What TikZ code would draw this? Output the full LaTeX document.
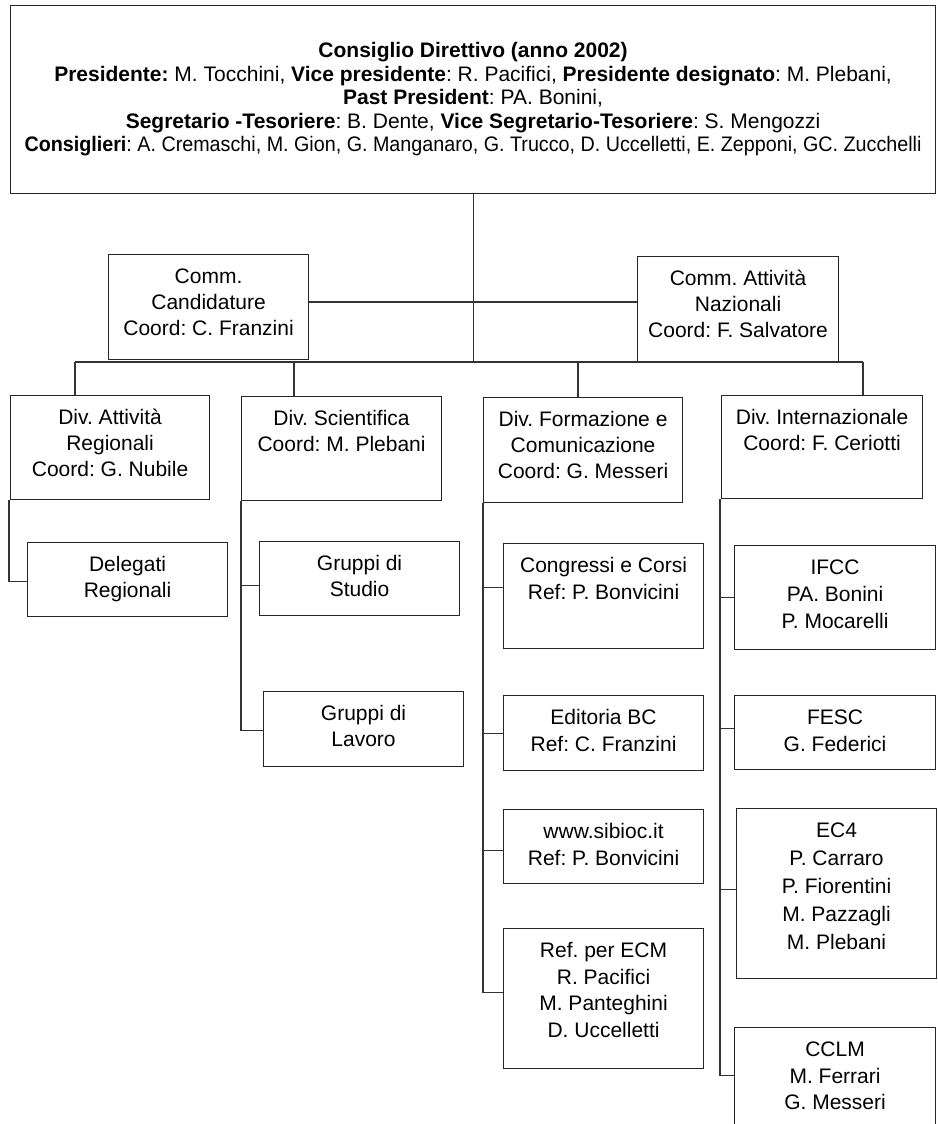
\documentclass[tikz,border=0pt]{standalone}
\usepackage{fontspec}
\setmainfont{Liberation Sans}
\frenchspacing
\tikzset{
  obox/.style={draw=black!85, line width=1.1pt, inner sep=0pt, anchor=north west, fill=white},
  conn/.style={draw=black!80, line width=1.1pt}
}
% name, x, y, width, height, baselineskip, text
\newcommand{\orgnode}[7]{%
  \node[obox] (#1) at (#2,#3) {\parbox[c][#5pt][t]{#4pt}{\centering\frenchspacing\fontsize{21}{#6}\selectfont\rule{0pt}{29pt}#7\par}};}
\begin{document}
\begin{tikzpicture}[x=1pt,y=-1pt]
\useasboundingbox (0,0) rectangle (937,1124);
\fill[white] (0,0) rectangle (937,1124);
\clip (0,0) rectangle (937,1124);

% top box
\node[obox] (cd) at (10,5) {\parbox[c][188pt][t]{925pt}{\centering\frenchspacing\fontsize{21}{23.5}\selectfont\rule{0pt}{52pt}%
\textbf{Consiglio Direttivo (anno 2002)}\\
\textbf{Presidente:} M. Tocchini, \textbf{Vice presidente}: R. Pacifici, \textbf{Presidente designato}: M. Plebani,\\
\textbf{Past President}: PA. Bonini,\\
\textbf{Segretario -Tesoriere}: B. Dente, \textbf{Vice Segretario-Tesoriere}: S. Mengozzi\\
\resizebox{897pt}{\height}{\textbf{Consiglieri}: A. Cremaschi, M. Gion, G. Manganaro, G. Trucco, D. Uccelletti, E. Zepponi, GC. Zucchelli}\par}};

% commissions
\orgnode{cc}{108}{254}{200}{105}{26}{Comm.\\Candidature\\Coord: C. Franzini}
\orgnode{ca}{637}{256}{201}{105}{26}{Comm. Attività\\Nazionali\\Coord: F. Salvatore}

% divisions
\orgnode{da}{10}{395}{199}{104}{26}{Div. Attività\\Regionali\\Coord: G. Nubile}
\orgnode{ds}{241}{396}{200}{104}{26}{Div. Scientifica\\Coord: M. Plebani}
\orgnode{df}{483}{397}{199}{105}{26}{Div. Formazione e\\Comunicazione\\Coord: G. Messeri}
\orgnode{di}{721}{395}{201}{103}{26}{Div. Internazionale\\Coord: F. Ceriotti}

% sub-units
\orgnode{dr}{27}{542}{200}{74}{26}{Delegati\\Regionali}
\orgnode{gs}{259}{541}{200}{74}{26}{Gruppi di\\Studio}
\orgnode{gl}{263}{691}{200}{75}{26}{Gruppi di\\Lavoro}
\orgnode{cg}{503}{543}{200}{105}{26.5}{Congressi e Corsi\\Ref: P. Bonvicini}
\orgnode{eb}{503}{695}{200}{75}{26.5}{Editoria BC\\Ref: C. Franzini}
\orgnode{ww}{503}{809}{200}{74}{26.5}{www.sibioc.it\\Ref: P. Bonvicini}
\orgnode{ecm}{503}{928}{200}{140}{26.7}{Ref. per ECM\\R. Pacifici\\M. Panteghini\\D. Uccelletti}
\orgnode{ifcc}{734}{545}{201}{104}{27}{IFCC\\PA. Bonini\\P. Mocarelli}
\orgnode{fe}{734}{695}{201}{74}{26.5}{FESC\\G. Federici}
\orgnode{ec}{736}{808}{200}{170}{28}{EC4\\P. Carraro\\P. Fiorentini\\M. Pazzagli\\M. Plebani}
\orgnode{cl}{734}{1027}{201}{120}{26.5}{CCLM\\M. Ferrari\\G. Messeri}

% connectors, top level
\coordinate (hb) at (0,302);
\draw[conn] (cc.east |- hb) -- (ca.west |- hb);
\coordinate (busL) at (75,362);
\coordinate (busR) at (863,362);
\coordinate (b2) at (294,362);
\coordinate (b3) at (578,362);
\draw[conn] (cd.south) -- (cd.south |- busL);
\draw[conn] (busL) -- (busR);
\draw[conn] (busL) -- (busL |- da.north);
\draw[conn] (b2) -- (b2 |- ds.north);
\draw[conn] (b3) -- (b3 |- df.north);
\draw[conn] (busR) -- (busR |- di.north);

% connectors, second level
\draw[conn] ([xshift=-1pt]da.south west) |- ([yshift=-2pt]dr.west);
\draw[conn] (ds.south west) |- ([yshift=-7pt]gs.west);
\draw[conn] (ds.south west) |- ([yshift=-1.5pt]gl.west);
\draw[conn] (df.south west) |- ([yshift=8.5pt]cg.west);
\draw[conn] (df.south west) |- (eb.west);
\draw[conn] (df.south west) |- ([yshift=-4pt]ww.west);
\draw[conn] (df.south west) |- ([yshift=6pt]ecm.west);
\draw[conn] ([xshift=-1pt]di.south west) |- (ifcc.west);
\draw[conn] ([xshift=-1pt]di.south west) |- ([yshift=4pt]fe.west);
\draw[conn] ([xshift=-1pt]di.south west) |- ([yshift=4pt]ec.west);
\draw[conn] ([xshift=-1pt]di.south west) |- ([yshift=12.5pt]cl.west);
\end{tikzpicture}
\end{document}
